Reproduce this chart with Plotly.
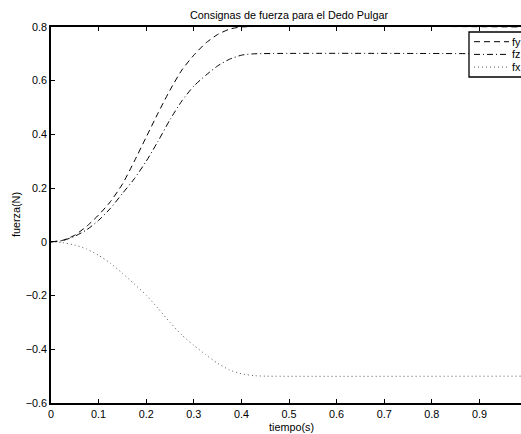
import plotly.graph_objects as go

# Force set-points for the thumb (time in seconds, force in newtons)
t_fy = [0.0, 0.025, 0.05, 0.075, 0.1, 0.125, 0.15, 0.175, 0.2, 0.225, 0.25,
        0.275, 0.3, 0.325, 0.35, 0.375, 0.4, 1.0]
fy = [0.0, 0.006, 0.025, 0.058, 0.10, 0.15, 0.215, 0.30, 0.39, 0.48, 0.565,
      0.64, 0.695, 0.74, 0.772, 0.792, 0.80, 0.80]

t_fz = [0.0, 0.025, 0.05, 0.075, 0.1, 0.125, 0.15, 0.175, 0.2, 0.225, 0.25,
        0.275, 0.3, 0.325, 0.35, 0.375, 0.4, 0.425, 1.0]
fz = [0.0, 0.005, 0.021, 0.045, 0.08, 0.125, 0.18, 0.235, 0.30, 0.375, 0.455,
      0.525, 0.58, 0.62, 0.655, 0.68, 0.695, 0.70, 0.70]

t_fx = [0.0, 0.025, 0.05, 0.075, 0.1, 0.125, 0.15, 0.175, 0.2, 0.225, 0.25,
        0.275, 0.3, 0.325, 0.35, 0.375, 0.4, 0.425, 0.45, 1.0]
fx = [0.0, -0.003, -0.012, -0.027, -0.05, -0.08, -0.117, -0.157, -0.198,
      -0.248, -0.30, -0.347, -0.385, -0.42, -0.452, -0.477, -0.491, -0.498,
      -0.50, -0.50]

series_names = ["fy", "fz", "fx"]
series_dash = ["6px,4px", "6px,3px,1px,3px", "1px,3px"]
series_color = ["black", "black", "#555555"]

x_ticks = [0, 0.1, 0.2, 0.3, 0.4, 0.5, 0.6, 0.7, 0.8, 0.9]
y_ticks = [-0.6, -0.4, -0.2, 0, 0.2, 0.4, 0.6, 0.8]

W, H = 521, 434
ML, MT, MB = 51, 27, 31
PW = W - ML
PH = H - MT - MB
FONT = "Liberation Sans, Arial, Helvetica, sans-serif"
FS = 10.8


def px_x(p):
    return (p - ML) / PW


def px_y(p):
    return 1 - (p - MT) / PH


fig = go.Figure()
for tt, vv, name, dash, col in zip([t_fy, t_fz, t_fx], [fy, fz, fx],
                                   series_names, series_dash, series_color):
    fig.add_trace(go.Scatter(
        x=tt, y=vv, name=name, mode="lines",
        line=dict(color=col, width=1, dash=dash, shape="spline",
                  smoothing=0.6),
        showlegend=False,
    ))

# Legend box (partly beyond the right edge of the page)
shapes = [dict(type="rect", xref="paper", yref="paper",
               x0=px_x(469), x1=px_x(560), y0=px_y(77), y1=px_y(32),
               line=dict(color="black", width=1.3), fillcolor="white",
               layer="above")]
annotations = []
for i, (name, dash, col) in enumerate(zip(series_names, series_dash,
                                          series_color)):
    yy = 41.7 + i * 12.7
    shapes.append(dict(type="line", xref="paper", yref="paper",
                       x0=px_x(474), x1=px_x(509), y0=px_y(yy), y1=px_y(yy),
                       line=dict(color=col, width=1, dash=dash),
                       layer="above"))
    annotations.append(dict(text=name, xref="paper", yref="paper",
                            x=px_x(510), y=px_y(yy), xanchor="left",
                            yanchor="middle", showarrow=False,
                            font=dict(size=FS, color="black", family=FONT)))

annotations.append(dict(text="tiempo(s)", xref="paper", yref="paper",
                        x=px_x(291), y=px_y(426.5), xanchor="center",
                        yanchor="middle", showarrow=False,
                        font=dict(size=FS, color="black", family=FONT)))
annotations.append(dict(text="fuerza(N)", xref="paper", yref="paper",
                        x=px_x(16), y=px_y(215), xanchor="center",
                        yanchor="middle", showarrow=False, textangle=-90,
                        font=dict(size=FS, color="black", family=FONT)))

fig.update_layout(
    width=W, height=H,
    margin=dict(l=ML, r=0, t=MT, b=MB, pad=0, autoexpand=False),
    paper_bgcolor="white", plot_bgcolor="white",
    font=dict(family=FONT, size=FS, color="black"),
    title=dict(text="Consignas de fuerza para el Dedo Pulgar",
               x=px_x(289), xref="paper", xanchor="center",
               y=1 - 15 / H, yanchor="middle",
               font=dict(size=FS, color="black", family=FONT)),
    shapes=shapes, annotations=annotations,
    showlegend=False,
)
fig.update_xaxes(
    range=[0, PW / 476], tickvals=x_ticks, ticktext=[f"{v:g}" for v in x_ticks],
    ticks="inside", ticklen=4, tickwidth=1, tickcolor="black",
    showline=True, linecolor="black", linewidth=1.6, mirror="ticks",
    showgrid=False, zeroline=False,
    tickfont=dict(size=FS, color="black", family=FONT),
)
fig.update_yaxes(
    range=[-0.6, 0.8], tickvals=y_ticks,
    ticktext=[f"{v:g}".replace("-", "\u2212") for v in y_ticks],
    ticks="inside", ticklen=4, tickwidth=1, tickcolor="black",
    showline=True, linecolor="black", linewidth=1.6, mirror=False,
    showgrid=False, zeroline=False,
    tickfont=dict(size=FS, color="black", family=FONT),
)

fig.write_html("out.html")
